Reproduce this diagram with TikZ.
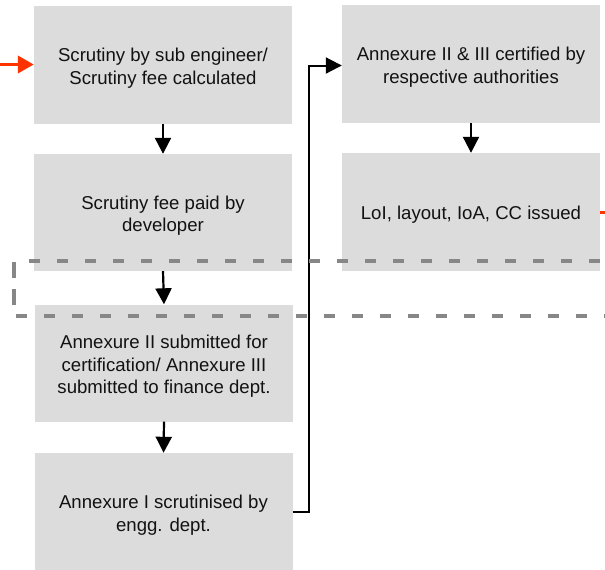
\documentclass[tikz,border=0pt]{standalone}
\usepackage{fontspec}
\setmainfont{Liberation Sans}
\usetikzlibrary{arrows.meta}
\definecolor{boxgray}{HTML}{DCDCDC}
\definecolor{dashgray}{HTML}{878787}
\definecolor{redarrow}{HTML}{FF3300}
\tikzset{
  box/.style={fill=boxgray, draw=none, minimum width=258pt, minimum height=118pt, inner sep=0pt},
  txt/.style={align=center, inner sep=0pt, text=black!93, font=\fontsize{18.6}{22.5}\selectfont},
  flow/.style={line width=2.2pt, -{Triangle[length=16pt,width=16pt]}},
  redflow/.style={line width=3.8pt, redarrow, -{Triangle[length=16pt,width=17pt]}},
  dashline/.style={line width=3.5pt, dashgray, dash pattern=on 11pt off 17pt}
}
\begin{document}
\begin{tikzpicture}[x=1pt,y=-1pt]
\useasboundingbox (0,0) rectangle (605,570);
\node[box] (b1) at (163,65) {};
\node[box, minimum height=117pt] (b2) at (163,212.5) {};
\node[box, minimum height=117pt] (b3) at (164,363) {};
\node[box, minimum height=117pt] (b4) at (163.5,511.5) {};
\node[box] (r1) at (471,64) {};
\node[box] (r2) at (471,212) {};
\node[txt] (b1t) at ([yshift=-3pt]b1.center) {Scrutiny by sub engineer/\\Scrutiny fee calculated};
\node[txt] (b2t) at ([yshift=-3pt]b2.center) {Scrutiny fee paid by\\developer};
\node[txt] (b3t) at ([yshift=-3.5pt]b3.center) {Annexure II submitted for\\certification/ Annexure III\\submitted to finance dept.};
\node[txt] (b4t) at ([yshift=-3.5pt]b4.center) {Annexure I scrutinised by\\engg. dept.};
\node[txt] (r1t) at ([yshift=-3pt]r1.center) {Annexure II \& III certified by\\respective authorities};
\node[txt] (r2t) at ([yshift=-3pt]r2.center) {LoI, layout, IoA, CC issued};
\draw[flow] (b1.south) -- (b2.north);
\draw[flow] (b2.south) -- (b3.north);
\draw[flow] (b3.south) -- (b4.north);
\draw[flow] (r1.south) -- (r2.north);
\draw[line width=2pt, -{Triangle[length=16pt,width=16pt]}] (b4.east) -- ++(16,0) |- ([yshift=-1.5pt]r1.west);
\coordinate (redin) at (0,64.5);
\draw[redflow] (redin) -- ([yshift=0.5pt]b1.west);
\coordinate (redout) at (606,212);
\draw[line width=3pt, redarrow] (r2.east) -- (redout);
\coordinate (dtl) at (14,261);
\coordinate (dbl) at (14,316);
\coordinate (dtr) at (612,261);
\coordinate (dbr) at (612,316);
\draw[dashline, dash phase=12.7pt] (dtl) -- (dtr);
\draw[dashline, dash phase=26pt] (dbl) -- (dbr);
\draw[line width=3.5pt, dashgray, dash pattern=on 16pt off 11pt] ([yshift=-1pt]dtl) -- (dbl);
\end{tikzpicture}
\end{document}
